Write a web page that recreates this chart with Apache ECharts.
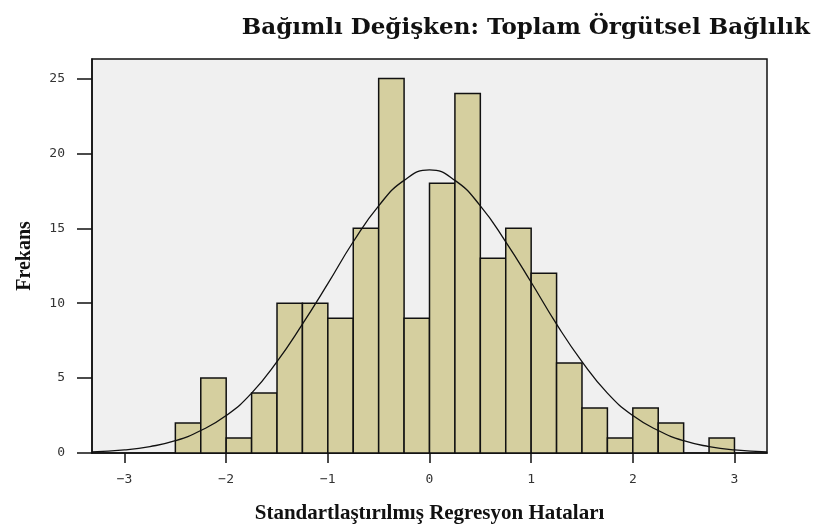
<!DOCTYPE html>
<html>
<head>
<meta charset="utf-8">
<script src="https://cdn.jsdelivr.net/npm/echarts@6/dist/echarts.min.js"></script>
<style>
  html, body { margin: 0; padding: 0; background: #ffffff; }
</style>
</head>
<body>
<div id="main" style="width: 819px; height: 528px;"></div>
<script>
// histogram bins (lower edge, upper edge) and counts
const binStart = [-2.5, -2.25, -2.0, -1.75, -1.5, -1.25, -1.0, -0.75, -0.5, -0.25,
  0, 0.25, 0.5, 0.75, 1.0, 1.25, 1.5, 1.75, 2.0, 2.25, 2.5, 2.75];
const binEnd = [-2.25, -2.0, -1.75, -1.5, -1.25, -1.0, -0.75, -0.5, -0.25, 0,
  0.25, 0.5, 0.75, 1.0, 1.25, 1.5, 1.75, 2.0, 2.25, 2.5, 2.75, 3.0];
const counts = [2, 5, 1, 4, 10, 10, 9, 15, 25, 9,
  18, 24, 13, 15, 12, 6, 3, 1, 3, 2, 0, 1];

// normal curve
const curveX = [-3.32, -3.0, -2.75, -2.5, -2.25, -2.0, -1.75, -1.5, -1.25, -1.0, -0.75, -0.5, -0.25,
  0, 0.25, 0.5, 0.75, 1.0, 1.25, 1.5, 1.75, 2.0, 2.25, 2.5, 2.75, 3.0, 3.32];
const curveY = [0.08, 0.21, 0.43, 0.82, 1.5, 2.5, 4.0, 6.1, 8.6, 11.3, 14.1, 16.5, 18.2,
  18.9, 18.2, 16.5, 14.1, 11.4, 8.6, 6.1, 4.0, 2.5, 1.5, 0.82, 0.43, 0.21, 0.08];

const xTicks = [-3, -2, -1, 0, 1, 2, 3];

const bars = counts.map(function (c, i) { return [binStart[i], binEnd[i], c]; });
const curve = curveX.map(function (x, i) { return [x, curveY[i]]; });

const chart = echarts.init(document.getElementById('main'));
const option = {
  animation: false,
  backgroundColor: '#ffffff',
  title: {
    text: 'Bağımlı Değişken: Toplam Örgütsel Bağlılık',
    right: 4,
    top: 12,
    textStyle: {
      fontFamily: 'DejaVu Serif',
      fontWeight: 'bold',
      fontSize: 23,
      color: '#111'
    }
  },
  grid: {
    left: 92,
    right: 52,
    top: 59,
    bottom: 75,
    outerBoundsMode: 'none',
    show: true,
    backgroundColor: '#f0f0f0',
    borderColor: '#111',
    borderWidth: 1.5
  },
  xAxis: {
    type: 'value',
    min: -3.32,
    max: 3.32,
    name: 'Standartlaştırılmış Regresyon Hataları',
    nameLocation: 'middle',
    nameGap: 50,
    nameTextStyle: {
      fontFamily: 'Liberation Serif',
      fontWeight: 'bold',
      fontSize: 21,
      color: '#111'
    },
    splitLine: { show: false },
    axisLine: { show: true, onZero: false, lineStyle: { color: '#111', width: 1.5 } },
    axisTick: {
      show: true,
      customValues: xTicks,
      length: 10,
      lineStyle: { color: '#111', width: 1.5 }
    },
    axisLabel: {
      customValues: xTicks,
      margin: 20,
      fontFamily: 'DejaVu Sans Mono',
      fontSize: 13,
      color: '#333',
      formatter: function (v) { return v < 0 ? '\u2212' + Math.abs(v) : String(v); }
    }
  },
  yAxis: {
    type: 'value',
    min: 0,
    max: 26.3,
    interval: 5,
    name: 'Frekans',
    nameLocation: 'middle',
    nameGap: 57,
    nameRotate: 90,
    nameTextStyle: {
      fontFamily: 'Liberation Serif',
      fontWeight: 'bold',
      fontSize: 20,
      color: '#111'
    },
    splitLine: { show: false },
    axisLine: { show: true, onZero: false, lineStyle: { color: '#111', width: 1.5 } },
    axisTick: { show: true, length: 15, lineStyle: { color: '#111', width: 1.5 } },
    axisLabel: {
      margin: 27,
      fontFamily: 'DejaVu Sans Mono',
      fontSize: 13,
      color: '#333',
      showMaxLabel: false
    }
  },
  series: [
    {
      type: 'custom',
      name: 'Frekans',
      data: bars,
      encode: { x: [0, 1], y: 2 },
      renderItem: function (params, api) {
        if (api.value(2) <= 0) return null;
        const p0 = api.coord([api.value(0), 0]);
        const p1 = api.coord([api.value(1), api.value(2)]);
        return {
          type: 'rect',
          shape: { x: p0[0], y: p1[1], width: p1[0] - p0[0], height: p0[1] - p1[1] },
          style: { fill: '#d5cf9f', stroke: '#111', lineWidth: 1.5 }
        };
      }
    },
    {
      type: 'line',
      data: curve,
      smooth: true,
      showSymbol: false,
      lineStyle: { color: '#111', width: 1.3 },
      z: 5
    }
  ]
};
chart.setOption(option);
</script>
</body>
</html>
